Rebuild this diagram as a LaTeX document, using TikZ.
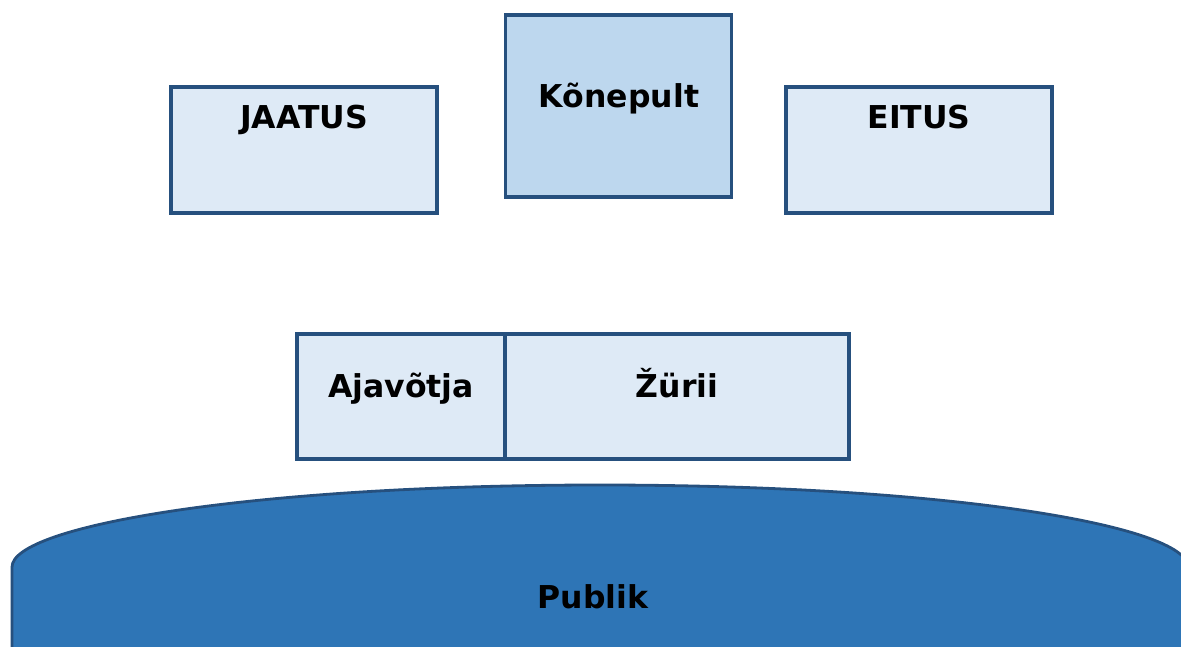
\documentclass[tikz,border=0pt]{standalone}
\usepackage{fontspec}
\setmainfont{DejaVu Sans}
\definecolor{lightfill}{HTML}{DEEAF6}
\definecolor{midfill}{HTML}{BDD7EE}
\definecolor{darkfill}{HTML}{2E75B6}
\definecolor{edge}{HTML}{26507E}
\tikzset{
  box/.style={draw=edge, line width=3.3pt, fill=lightfill, rectangle, inner sep=0pt, outer sep=0pt},
  lbl/.style={anchor=base, inner sep=0pt, font=\fontsize{31.5}{36}\selectfont\bfseries, text=black}
}
\begin{document}
\begin{tikzpicture}[x=1pt,y=-1pt]
\useasboundingbox (0,0) rectangle (1181,646);
\begin{scope}
\clip (0,0) rectangle (1181,646);
\path[fill=darkfill, draw=edge, line width=2.8pt]
  (12,660) -- (12,567) .. controls (12,526) and (250,485) .. (600,485)
  .. controls (950,485) and (1188,526) .. (1188,567) -- (1188,660) -- cycle;
\end{scope}
\node[box, minimum width=266pt, minimum height=126pt] (jaatus) at (304,150) {};
\node[box, fill=midfill, minimum width=226pt, minimum height=182pt] (konepult) at (618.5,106) {};
\node[box, minimum width=266pt, minimum height=126pt] (eitus) at (919,150) {};
\node[box, minimum width=208pt, minimum height=125pt] (ajavotja) at (401,396.5) {};
\node[box, minimum width=344pt, minimum height=125pt] (zurii) at (677,396.5) {};
\node[lbl] (tjaatus) at (304,128) {JAATUS};
\node[lbl] (tkonepult) at (619,107) {Kõnepult};
\node[lbl] (teitus) at (919,128) {EITUS};
\node[lbl] (tajavotja) at (401,397) {Ajavõtja};
\node[lbl] (tzurii) at (677,397) {Žürii};
\node[lbl] (tpublik) at (593,608) {Publik};
\end{tikzpicture}
\end{document}
